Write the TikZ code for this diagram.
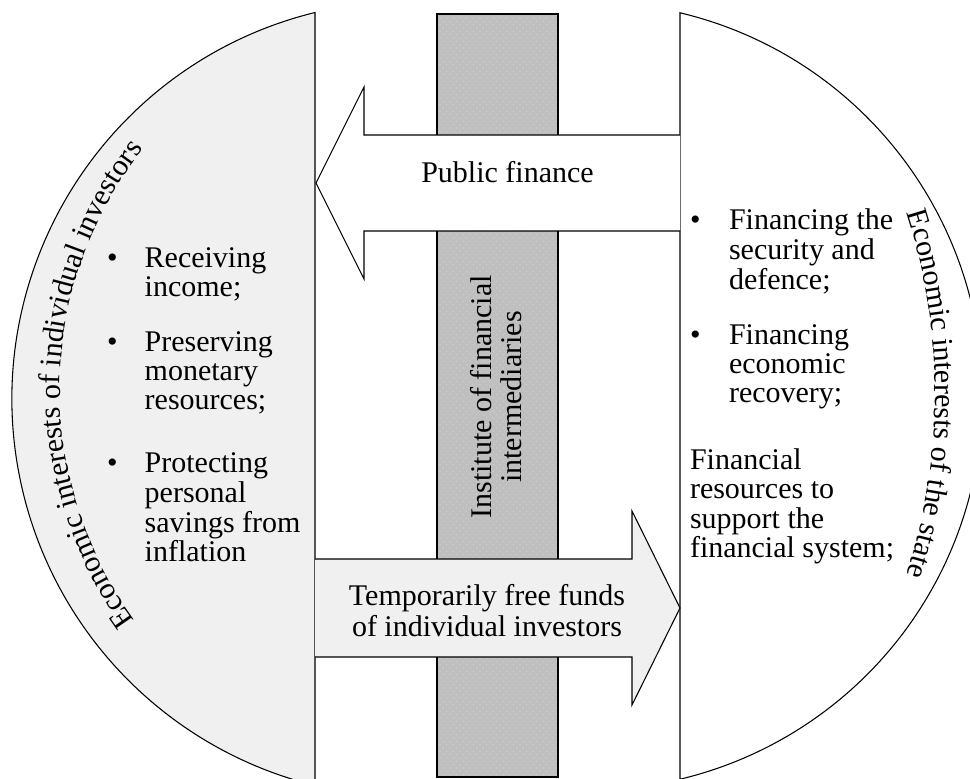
\documentclass[tikz,border=0pt]{standalone}
\usepackage{fontspec}
\setmainfont{Liberation Serif}
\usetikzlibrary{patterns,decorations.text}

\definecolor{paneFill}{RGB}{240,240,240}
\definecolor{barFill}{RGB}{191,191,191}
\definecolor{barDots}{RGB}{207,207,207}

% staggered dot texture for the intermediaries bar
\pgfdeclarepatternformonly{bardots}{\pgfqpoint{-1pt}{-1pt}}{\pgfqpoint{4pt}{4pt}}{\pgfqpoint{5pt}{5pt}}{%
  \pgfpathcircle{\pgfqpoint{0pt}{0pt}}{0.55pt}%
  \pgfpathcircle{\pgfqpoint{2.5pt}{2.5pt}}{0.55pt}%
  \pgfusepath{fill}}

\newcommand\listfont{\fontsize{22.5}{21.5}\selectfont}
\newcommand\curvefont{\fontsize{22.5}{27}\selectfont}

\tikzset{
  outline/.style={draw=black, line width=0.8pt, line join=miter},
  txt/.style={inner sep=0pt, outer sep=0pt, font=\listfont},
  arclabel/.style={decorate, decoration={text along path, text align=center, text={|\curvefont|#1}}}
}

\begin{document}
\begin{tikzpicture}[x=0.75pt, y=0.75pt]
\useasboundingbox (0,0) rectangle (970,778);
\clip (0,0) rectangle (970,778);

% centres of the two outlines and of the flatter arcs the titles follow
\coordinate (LC) at (410,379);
\coordinate (RC) at (588.5,382);
\coordinate (LT) at (451,388);
\coordinate (RT) at (340,384);

% investors' half-disc (left)
\path[outline, fill=paneFill] (315,-7.5) -- (315,765.5)
  arc[start angle=103.8, end angle=256.2, radius=398] -- cycle;

% state's half-disc (right)
\path[outline, fill=white] (680,-1.2) -- (680,765.2)
  arc[start angle=76.57, end angle=-76.57, radius=394] -- cycle;

% vertical bar of financial intermediaries
\path[outline, preaction={fill=barFill}, pattern=bardots, pattern color=barDots]
  (437,1) rectangle (558,764);
\node[txt, rotate=90, font=\fontsize{22.5}{22.5}\selectfont] (bar) at (500,381)
  {\begin{tabular}{@{}c@{}}Institute of financial\\ intermediaries\end{tabular}};

% public finance arrow (to the left), open at its tail
\path[outline, fill=white] (680,643) -- (364,643) -- (364,691) -- (316,595)
  -- (364,499) -- (364,547) -- (680,547);
\node[txt, anchor=base] (pubfin) at (507.5,595) {Public finance};

% free funds arrow (to the right), open at its tail
\path[outline, fill=paneFill] (315,219) -- (632,219) -- (632,267) -- (680,170)
  -- (632,73) -- (632,121) -- (315,121);
\node[txt, anchor=base, font=\fontsize{22.5}{23.25}\selectfont] (funds) at (487,172)
  {\begin{tabular}[t]{@{}c@{}}Temporarily free funds\\ of individual investors\end{tabular}};

% investors' interests
\node[txt, anchor=base west] (inv1) at (107,510)
  {\begin{tabular}[t]{@{}l@{\hspace{20.4pt}}l@{}}•&Receiving\\&income;\end{tabular}};
\node[txt, anchor=base west] (inv2) at (107,426)
  {\begin{tabular}[t]{@{}l@{\hspace{20.4pt}}l@{}}•&Preserving\\&monetary\\&resources;\end{tabular}};
\node[txt, anchor=base west] (inv3) at (107,305)
  {\begin{tabular}[t]{@{}l@{\hspace{20.4pt}}l@{}}•&Protecting\\&personal\\&savings from\\&inflation\end{tabular}};

% state's interests
\node[txt, anchor=base west] (st1) at (690,548)
  {\begin{tabular}[t]{@{}l@{\hspace{21.4pt}}l@{}}•&Financing the\\&security and\\&defence;\end{tabular}};
\node[txt, anchor=base west] (st2) at (690,433)
  {\begin{tabular}[t]{@{}l@{\hspace{21.4pt}}l@{}}•&Financing\\&economic\\&recovery;\end{tabular}};
\node[txt, anchor=base west] (st3) at (690,308)
  {\begin{tabular}[t]{@{}l@{}}Financial\\resources to\\support the\\financial system;\end{tabular}};

% curved titles inside the half-discs
\path[arclabel={Economic interests of individual investors}]
  (LT) ++(239:391) arc[start angle=239, end angle=119, radius=391];
\path[arclabel={Economic interests of the state}]
  (RT) ++(30:595) arc[start angle=30, end angle=-30, radius=595];
\end{tikzpicture}
\end{document}
